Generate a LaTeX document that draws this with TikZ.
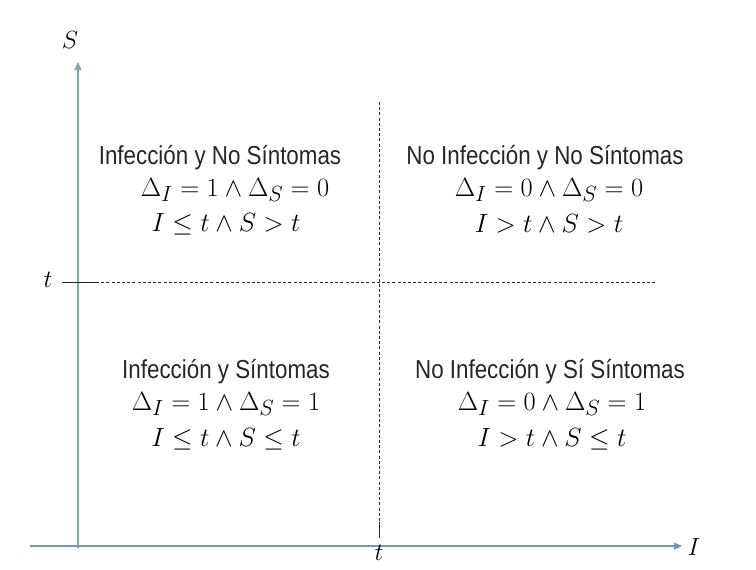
\documentclass[tikz,border=0pt]{standalone}
\usepackage{graphicx}
\usepackage{fontspec}
\setmainfont{Liberation Sans}[FakeStretch=0.86]
\usetikzlibrary{arrows.meta}
\definecolor{vaxis}{HTML}{7FA8A6}
\definecolor{haxis}{HTML}{7096C0}
\newcommand{\quadmath}[1]{\scalebox{1.06}{$#1$}}
\tikzset{
  axisv/.style={draw=vaxis, line width=1.2pt, -{Triangle[length=8pt,width=7pt]}},
  axish/.style={draw=haxis, line width=1.2pt, -{Triangle[length=8pt,width=7pt]}},
  guide/.style={draw=black!85, line width=0.7pt, dash pattern=on 3pt off 2.2pt},
  tickline/.style={draw=black!85, line width=0.9pt},
  title/.style={font=\fontsize{26}{30}\selectfont, text=black!85, inner sep=0pt},
  mathl/.style={font=\fontsize{24.88}{30}\selectfont, inner sep=0pt},
  axlabel/.style={font=\fontsize{24.88}{28}\selectfont, inner sep=0pt}
}
\begin{document}
\begin{tikzpicture}[x=1pt,y=-1pt]
\useasboundingbox (0,0) rectangle (756,570);
% axes
\coordinate (vbot) at (78,548);
\coordinate (vtop) at (78,62);
\coordinate (hleft) at (30,546);
\coordinate (hright) at (682,546);
\draw[axisv] (vbot) -- (vtop);
\draw[axish] (hleft) -- (hright);
\node[axlabel] (S) at (70,40) {$S$};
\node[axlabel] (I) at (694,547) {$I$};
% threshold on S
\coordinate (ts) at (62,282);
\coordinate (ts2) at (96,282);
\coordinate (te) at (656,282);
\node[axlabel] (tS) at (48,280) {$t$};
\draw[tickline] (ts) -- (ts2);
\draw[guide] (ts2) -- (te);
% threshold on I
\coordinate (ti) at (379,102);
\coordinate (ti2) at (379,522);
\coordinate (ti3) at (379,538);
\node[axlabel] (tI) at (379,553) {$t$};
\draw[guide] (ti) -- (ti2);
\draw[tickline] (ti2) -- (ti3);
% quadrants
\node[title] (q1) at (220,158) {Infección y No Síntomas};
\node[mathl] (q1a) at (235,190) {\quadmath{\Delta_I = 1 \wedge \Delta_S = 0}};
\node[mathl] (q1b) at (226,224) {\quadmath{I \leq t \wedge S > t}};
\node[title] (q2) at (545,158) {No Infección y No Síntomas};
\node[mathl] (q2a) at (549,190) {\quadmath{\Delta_I = 0 \wedge \Delta_S = 0}};
\node[mathl] (q2b) at (549,224) {\quadmath{I > t \wedge S > t}};
\node[title] (q3) at (226,372) {Infección y Síntomas};
\node[mathl] (q3a) at (226,404) {\quadmath{\Delta_I = 1 \wedge \Delta_S = 1}};
\node[mathl] (q3b) at (226,439) {\quadmath{I \leq t \wedge S \leq t}};
\node[title] (q4) at (550,372) {No Infección y Sí Síntomas};
\node[mathl] (q4a) at (552,404) {\quadmath{\Delta_I = 0 \wedge \Delta_S = 1}};
\node[mathl] (q4b) at (552,439) {\quadmath{I > t \wedge S \leq t}};
\end{tikzpicture}
\end{document}
